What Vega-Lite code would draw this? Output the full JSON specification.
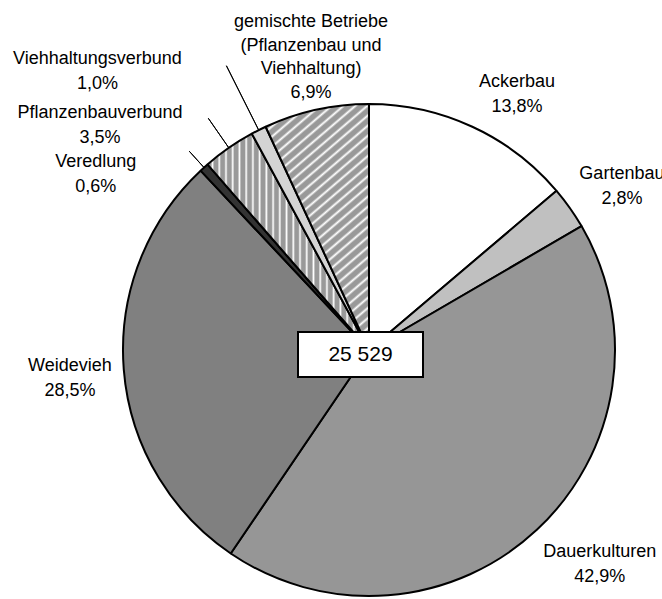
{
  "$schema": "https://vega.github.io/schema/vega-lite/v6.json",
  "width": 492,
  "height": 492,
  "autosize": {"type": "none"},
  "padding": {"left": 123, "top": 104, "right": 47, "bottom": 3},
  "background": "white",
  "config": {"view": {"stroke": null}, "text": {"font": "Liberation Sans", "fontSize": 18, "color": "black"}},
  "layer": [
    {
      "data": {"values": [
        {"idx": 1, "cat": "Ackerbau", "share": 13.8, "label": "Ackerbau\n13,8%"},
        {"idx": 2, "cat": "Gartenbau", "share": 2.8, "label": "Gartenbau\n2,8%"},
        {"idx": 3, "cat": "Dauerkulturen", "share": 42.9, "label": "Dauerkulturen\n42,9%"},
        {"idx": 4, "cat": "Weidevieh", "share": 28.5, "label": "Weidevieh\n28,5%"},
        {"idx": 5, "cat": "Veredlung", "share": 0.6, "label": "Veredlung\n0,6%"},
        {"idx": 6, "cat": "Pflanzenbauverbund", "share": 3.5, "label": "Pflanzenbauverbund\n3,5%"},
        {"idx": 7, "cat": "Viehhaltungsverbund", "share": 1.0, "label": "Viehhaltungsverbund\n1,0%"},
        {"idx": 8, "cat": "gemischte Betriebe", "share": 6.9, "label": "gemischte Betriebe\n(Pflanzenbau und\nViehhaltung)\n6,9%"}
      ]},
      "encoding": {
        "theta": {"field": "share", "type": "quantitative", "stack": true},
        "order": {"field": "idx", "type": "quantitative"}
      },
      "layer": [
        {
          "mark": {"type": "arc", "outerRadius": 246, "stroke": "black", "strokeWidth": 2, "strokeJoin": "bevel"},
          "encoding": {
            "fill": {
              "condition": [
                {"test": "datum.cat === 'Pflanzenbauverbund'", "value": {"gradient": "linear", "x1": 0, "y1": 0, "x2": 1, "y2": 0, "stops": [
                  {"offset": 0, "color": "#999"}, {"offset": 0.0208, "color": "#999"}, {"offset": 0.0313, "color": "#fff"},
                  {"offset": 0.0417, "color": "#999"}, {"offset": 0.0625, "color": "#999"}, {"offset": 0.0729, "color": "#fff"},
                  {"offset": 0.0833, "color": "#999"}, {"offset": 0.1042, "color": "#999"}, {"offset": 0.1146, "color": "#fff"},
                  {"offset": 0.125, "color": "#999"}, {"offset": 0.1458, "color": "#999"}, {"offset": 0.1563, "color": "#fff"},
                  {"offset": 0.1667, "color": "#999"}, {"offset": 0.1875, "color": "#999"}, {"offset": 0.1979, "color": "#fff"},
                  {"offset": 0.2083, "color": "#999"}, {"offset": 0.2292, "color": "#999"}, {"offset": 0.2396, "color": "#fff"},
                  {"offset": 0.25, "color": "#999"}, {"offset": 0.2708, "color": "#999"}, {"offset": 0.2813, "color": "#fff"},
                  {"offset": 0.2917, "color": "#999"}, {"offset": 0.3125, "color": "#999"}, {"offset": 0.3229, "color": "#fff"},
                  {"offset": 0.3333, "color": "#999"}, {"offset": 0.3542, "color": "#999"}, {"offset": 0.3646, "color": "#fff"},
                  {"offset": 0.375, "color": "#999"}, {"offset": 0.3958, "color": "#999"}, {"offset": 0.4063, "color": "#fff"},
                  {"offset": 0.4167, "color": "#999"}, {"offset": 0.4375, "color": "#999"}, {"offset": 0.4479, "color": "#fff"},
                  {"offset": 0.4583, "color": "#999"}, {"offset": 0.4792, "color": "#999"}, {"offset": 0.4896, "color": "#fff"},
                  {"offset": 0.5, "color": "#999"}, {"offset": 0.5208, "color": "#999"}, {"offset": 0.5313, "color": "#fff"},
                  {"offset": 0.5417, "color": "#999"}, {"offset": 0.5625, "color": "#999"}, {"offset": 0.5729, "color": "#fff"},
                  {"offset": 0.5833, "color": "#999"}, {"offset": 0.6042, "color": "#999"}, {"offset": 0.6146, "color": "#fff"},
                  {"offset": 0.625, "color": "#999"}, {"offset": 0.6458, "color": "#999"}, {"offset": 0.6563, "color": "#fff"},
                  {"offset": 0.6667, "color": "#999"}, {"offset": 0.6875, "color": "#999"}, {"offset": 0.6979, "color": "#fff"},
                  {"offset": 0.7083, "color": "#999"}, {"offset": 0.7292, "color": "#999"}, {"offset": 0.7396, "color": "#fff"},
                  {"offset": 0.75, "color": "#999"}, {"offset": 0.7708, "color": "#999"}, {"offset": 0.7813, "color": "#fff"},
                  {"offset": 0.7917, "color": "#999"}, {"offset": 0.8125, "color": "#999"}, {"offset": 0.8229, "color": "#fff"},
                  {"offset": 0.8333, "color": "#999"}, {"offset": 0.8542, "color": "#999"}, {"offset": 0.8646, "color": "#fff"},
                  {"offset": 0.875, "color": "#999"}, {"offset": 0.8958, "color": "#999"}, {"offset": 0.9063, "color": "#fff"},
                  {"offset": 0.9167, "color": "#999"}, {"offset": 0.9375, "color": "#999"}, {"offset": 0.9479, "color": "#fff"},
                  {"offset": 0.9583, "color": "#999"}, {"offset": 0.9792, "color": "#999"}, {"offset": 0.9896, "color": "#fff"},
                  {"offset": 1, "color": "#999"}
                ]}},
                {"test": "datum.cat === 'gemischte Betriebe'", "value": {"gradient": "linear", "x1": 0, "y1": 0, "x2": 0.432, "y2": 1.204, "stops": [
                  {"offset": 0, "color": "#999"}, {"offset": 0.0152, "color": "#999"}, {"offset": 0.0227, "color": "#fff"},
                  {"offset": 0.0303, "color": "#999"}, {"offset": 0.0455, "color": "#999"}, {"offset": 0.0530, "color": "#fff"},
                  {"offset": 0.0606, "color": "#999"}, {"offset": 0.0758, "color": "#999"}, {"offset": 0.0833, "color": "#fff"},
                  {"offset": 0.0909, "color": "#999"}, {"offset": 0.1061, "color": "#999"}, {"offset": 0.1136, "color": "#fff"},
                  {"offset": 0.1212, "color": "#999"}, {"offset": 0.1364, "color": "#999"}, {"offset": 0.1439, "color": "#fff"},
                  {"offset": 0.1515, "color": "#999"}, {"offset": 0.1667, "color": "#999"}, {"offset": 0.1742, "color": "#fff"},
                  {"offset": 0.1818, "color": "#999"}, {"offset": 0.1970, "color": "#999"}, {"offset": 0.2045, "color": "#fff"},
                  {"offset": 0.2121, "color": "#999"}, {"offset": 0.2273, "color": "#999"}, {"offset": 0.2348, "color": "#fff"},
                  {"offset": 0.2424, "color": "#999"}, {"offset": 0.2576, "color": "#999"}, {"offset": 0.2652, "color": "#fff"},
                  {"offset": 0.2727, "color": "#999"}, {"offset": 0.2879, "color": "#999"}, {"offset": 0.2955, "color": "#fff"},
                  {"offset": 0.3030, "color": "#999"}, {"offset": 0.3182, "color": "#999"}, {"offset": 0.3258, "color": "#fff"},
                  {"offset": 0.3333, "color": "#999"}, {"offset": 0.3485, "color": "#999"}, {"offset": 0.3561, "color": "#fff"},
                  {"offset": 0.3636, "color": "#999"}, {"offset": 0.3788, "color": "#999"}, {"offset": 0.3864, "color": "#fff"},
                  {"offset": 0.3939, "color": "#999"}, {"offset": 0.4091, "color": "#999"}, {"offset": 0.4167, "color": "#fff"},
                  {"offset": 0.4242, "color": "#999"}, {"offset": 0.4394, "color": "#999"}, {"offset": 0.4470, "color": "#fff"},
                  {"offset": 0.4545, "color": "#999"}, {"offset": 0.4697, "color": "#999"}, {"offset": 0.4773, "color": "#fff"},
                  {"offset": 0.4848, "color": "#999"}, {"offset": 0.5000, "color": "#999"}, {"offset": 0.5076, "color": "#fff"},
                  {"offset": 0.5152, "color": "#999"}, {"offset": 0.5303, "color": "#999"}, {"offset": 0.5379, "color": "#fff"},
                  {"offset": 0.5455, "color": "#999"}, {"offset": 0.5606, "color": "#999"}, {"offset": 0.5682, "color": "#fff"},
                  {"offset": 0.5758, "color": "#999"}, {"offset": 0.5909, "color": "#999"}, {"offset": 0.5985, "color": "#fff"},
                  {"offset": 0.6061, "color": "#999"}, {"offset": 0.6212, "color": "#999"}, {"offset": 0.6288, "color": "#fff"},
                  {"offset": 0.6364, "color": "#999"}, {"offset": 0.6515, "color": "#999"}, {"offset": 0.6591, "color": "#fff"},
                  {"offset": 0.6667, "color": "#999"}, {"offset": 0.6818, "color": "#999"}, {"offset": 0.6894, "color": "#fff"},
                  {"offset": 0.6970, "color": "#999"}, {"offset": 0.7121, "color": "#999"}, {"offset": 0.7197, "color": "#fff"},
                  {"offset": 0.7273, "color": "#999"}, {"offset": 0.7424, "color": "#999"}, {"offset": 0.7500, "color": "#fff"},
                  {"offset": 0.7576, "color": "#999"}, {"offset": 0.7727, "color": "#999"}, {"offset": 0.7803, "color": "#fff"},
                  {"offset": 0.7879, "color": "#999"}, {"offset": 0.8030, "color": "#999"}, {"offset": 0.8106, "color": "#fff"},
                  {"offset": 0.8182, "color": "#999"}, {"offset": 0.8333, "color": "#999"}, {"offset": 0.8409, "color": "#fff"},
                  {"offset": 0.8485, "color": "#999"}, {"offset": 0.8636, "color": "#999"}, {"offset": 0.8712, "color": "#fff"},
                  {"offset": 0.8788, "color": "#999"}, {"offset": 0.8939, "color": "#999"}, {"offset": 0.9015, "color": "#fff"},
                  {"offset": 0.9091, "color": "#999"}, {"offset": 0.9242, "color": "#999"}, {"offset": 0.9318, "color": "#fff"},
                  {"offset": 0.9394, "color": "#999"}, {"offset": 0.9545, "color": "#999"}, {"offset": 0.9621, "color": "#fff"},
                  {"offset": 0.9697, "color": "#999"}, {"offset": 0.9848, "color": "#999"}, {"offset": 0.9924, "color": "#fff"},
                  {"offset": 1, "color": "#999"}
                ]}}
              ],
              "field": "cat",
              "type": "nominal",
              "scale": {
                "domain": ["Ackerbau", "Gartenbau", "Dauerkulturen", "Weidevieh", "Veredlung", "Pflanzenbauverbund", "Viehhaltungsverbund", "gemischte Betriebe"],
                "range": ["#ffffff", "#c0c0c0", "#969696", "#808080", "#333333", "#999999", "#d4d4d4", "#999999"]
              },
              "legend": null
            }
          }
        },
        {
          "mark": {"type": "arc", "innerRadius": 246, "outerRadius": 268, "padAngle": 0.5, "filled": false, "stroke": "black", "strokeWidth": 1},
          "encoding": {"strokeOpacity": {"condition": {"test": "datum.cat === 'Veredlung'", "value": 1}, "value": 0}}
        },
        {
          "mark": {"type": "arc", "innerRadius": 246, "outerRadius": 282, "padAngle": 0.5, "filled": false, "stroke": "black", "strokeWidth": 1},
          "encoding": {"strokeOpacity": {"condition": {"test": "datum.cat === 'Pflanzenbauverbund'", "value": 1}, "value": 0}}
        },
        {
          "mark": {"type": "arc", "innerRadius": 246, "outerRadius": 318, "padAngle": 0.5, "filled": false, "stroke": "black", "strokeWidth": 1},
          "encoding": {"strokeOpacity": {"condition": {"test": "datum.cat === 'Viehhaltungsverbund'", "value": 1}, "value": 0}}
        },
        {
          "mark": {"type": "text", "radius": 300, "align": "center", "baseline": "alphabetic", "lineBreak": "\n", "lineHeight": 25, "dx": 22, "dy": 9},
          "encoding": {"text": {"condition": {"test": "datum.cat === 'Ackerbau'", "field": "label", "type": "nominal"}, "value": ""}}
        },
        {
          "mark": {"type": "text", "radius": 300, "align": "center", "baseline": "alphabetic", "lineBreak": "\n", "lineHeight": 25, "dx": 8, "dy": 2},
          "encoding": {"text": {"condition": {"test": "datum.cat === 'Gartenbau'", "field": "label", "type": "nominal"}, "value": ""}}
        },
        {
          "mark": {"type": "text", "radius": 300, "align": "center", "baseline": "alphabetic", "lineBreak": "\n", "lineHeight": 25, "dx": 26, "dy": -12},
          "encoding": {"text": {"condition": {"test": "datum.cat === 'Dauerkulturen'", "field": "label", "type": "nominal"}, "value": ""}}
        },
        {
          "mark": {"type": "text", "radius": 300, "align": "center", "baseline": "alphabetic", "lineBreak": "\n", "lineHeight": 25, "dx": 0, "dy": -3},
          "encoding": {"text": {"condition": {"test": "datum.cat === 'Weidevieh'", "field": "label", "type": "nominal"}, "value": ""}}
        },
        {
          "mark": {"type": "text", "radius": 300, "align": "center", "baseline": "alphabetic", "lineBreak": "\n", "lineHeight": 25, "dx": -72, "dy": 40},
          "encoding": {"text": {"condition": {"test": "datum.cat === 'Veredlung'", "field": "label", "type": "nominal"}, "value": ""}}
        },
        {
          "mark": {"type": "text", "radius": 300, "align": "center", "baseline": "alphabetic", "lineBreak": "\n", "lineHeight": 25, "dx": -98, "dy": 15},
          "encoding": {"text": {"condition": {"test": "datum.cat === 'Pflanzenbauverbund'", "field": "label", "type": "nominal"}, "value": ""}}
        },
        {
          "mark": {"type": "text", "radius": 300, "align": "center", "baseline": "alphabetic", "lineBreak": "\n", "lineHeight": 25, "dx": -137, "dy": -18},
          "encoding": {"text": {"condition": {"test": "datum.cat === 'Viehhaltungsverbund'", "field": "label", "type": "nominal"}, "value": ""}}
        },
        {
          "mark": {"type": "text", "radius": 330, "align": "center", "baseline": "alphabetic", "lineBreak": "\n", "lineHeight": 23.8, "dx": 13, "dy": -1},
          "encoding": {"text": {"condition": {"test": "datum.cat === 'gemischte Betriebe'", "field": "label", "type": "nominal"}, "value": ""}}
        }
      ]
    },
    {
      "data": {"values": [{"total": "25 529"}]},
      "mark": {"type": "point", "shape": "M-1,-0.36L1,-0.36L1,0.36L-1,0.36Z", "size": 15625, "filled": true, "fill": "white", "stroke": "black", "strokeWidth": 2, "opacity": 1, "xOffset": -8.5, "yOffset": 4.5},
      "encoding": {}
    },
    {
      "data": {"values": [{"total": "25 529"}]},
      "mark": {"type": "text", "fontSize": 21, "align": "center", "baseline": "middle", "dx": -8.5, "dy": 5},
      "encoding": {"text": {"field": "total", "type": "nominal"}}
    }
  ]
}
